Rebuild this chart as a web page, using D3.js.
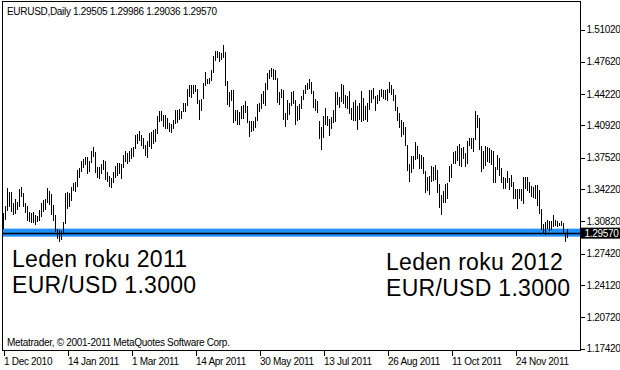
<!DOCTYPE html>
<html><head><meta charset="utf-8">
<script src="https://cdn.jsdelivr.net/npm/d3@7"></script>
<style>
body{margin:0;background:#fff;}
svg text{font-family:"Liberation Sans",Arial,sans-serif;}
</style></head>
<body><svg id="c" width="620" height="370"></svg>
<script>
// ---- data ----
const title = "EURUSD,Daily  1.29505 1.29986 1.29036 1.29570";
const highs = [
1.3170,1.3240,1.3430,1.3395,1.3395,1.3275,1.3315,1.3280,1.3420,1.3440,
1.3380,1.3270,1.3240,1.3180,1.3170,1.3180,1.3145,1.3140,1.3200,1.3270,
1.3310,1.3320,1.3430,1.3400,1.3365,1.3250,1.3145,1.3005,1.2985,1.2975,
1.3075,1.3375,1.3390,1.3380,1.3440,1.3490,1.3500,1.3620,1.3640,1.3720,
1.3740,1.3760,1.3760,1.3720,1.3820,1.3860,1.3810,1.3650,1.3650,1.3690,
1.3730,1.3720,1.3600,1.3560,1.3540,1.3600,1.3660,1.3700,1.3700,1.3690,
1.3780,1.3820,1.3800,1.3820,1.3850,1.3860,1.3990,1.4000,1.4035,1.3990,
1.3960,1.3890,1.3930,1.4010,1.4020,1.4040,1.4050,1.4190,1.4240,1.4240,
1.4200,1.4200,1.4170,1.4120,1.4110,1.4150,1.4250,1.4250,1.4260,1.4240,
1.4330,1.4330,1.4480,1.4520,1.4520,1.4520,1.4520,1.4480,1.4360,1.4370,
1.4540,1.4650,1.4580,1.4590,1.4680,1.4820,1.4880,1.4880,1.4860,1.4850,
1.4940,1.4870,1.4560,1.4440,1.4470,1.4460,1.4250,1.4250,1.4230,1.4300,
1.4310,1.4350,1.4300,1.4140,1.4140,1.4140,1.4180,1.4320,1.4330,1.4420,
1.4450,1.4540,1.4640,1.4680,1.4700,1.4690,1.4680,1.4590,1.4440,1.4480,
1.4460,1.4220,1.4360,1.4330,1.4440,1.4450,1.4360,1.4300,1.4320,1.4400,
1.4460,1.4520,1.4540,1.4580,1.4550,1.4450,1.4370,1.4350,1.4140,1.4070,
1.4190,1.4280,1.4190,1.4160,1.4180,1.4250,1.4440,1.4440,1.4390,1.4530,
1.4520,1.4410,1.4400,1.4450,1.4280,1.4340,1.4360,1.4300,1.4330,1.4450,
1.4380,1.4300,1.4330,1.4460,1.4470,1.4490,1.4400,1.4410,1.4460,1.4480,
1.4470,1.4470,1.4480,1.4550,1.4520,1.4480,1.4410,1.4290,1.4220,1.4150,
1.4130,1.4080,1.3890,1.3690,1.3770,1.3770,1.3920,1.3880,1.3790,1.3780,
1.3760,1.3610,1.3550,1.3560,1.3660,1.3650,1.3680,1.3620,1.3470,1.3360,
1.3400,1.3470,1.3490,1.3660,1.3690,1.3810,1.3820,1.3880,1.3900,1.3850,
1.3860,1.3800,1.3930,1.3960,1.3960,1.3960,1.4247,1.4200,1.4170,1.3870,
1.3820,1.3870,1.3860,1.3850,1.3830,1.3820,1.3650,1.3780,1.3750,1.3640,
1.3550,1.3540,1.3610,1.3540,1.3570,1.3500,1.3420,1.3420,1.3420,1.3420,
1.3550,1.3550,1.3550,1.3500,1.3450,1.3440,1.3460,1.3460,1.3410,1.3210,
1.3050,1.3070,1.3100,1.3080,1.3090,1.3150,1.3100,1.3080,1.3060,1.3080,
1.3060,1.2960,1.2999];
const lows = [
1.3000,1.3100,1.3195,1.3230,1.3180,1.3145,1.3160,1.3200,1.3230,1.3335,
1.3230,1.3165,1.3090,1.3070,1.3060,1.3060,1.3045,1.3070,1.3090,1.3125,
1.3180,1.3200,1.3270,1.3250,1.3145,1.3090,1.2970,1.2900,1.2862,1.2880,
1.2955,1.3055,1.3215,1.3230,1.3300,1.3400,1.3390,1.3440,1.3540,1.3600,
1.3640,1.3680,1.3580,1.3600,1.3700,1.3760,1.3590,1.3540,1.3530,1.3580,
1.3620,1.3520,1.3500,1.3440,1.3430,1.3480,1.3540,1.3560,1.3580,1.3530,
1.3640,1.3710,1.3690,1.3710,1.3740,1.3760,1.3840,1.3900,1.3930,1.3870,
1.3840,1.3770,1.3750,1.3860,1.3840,1.3900,1.3920,1.4000,1.4130,1.4140,
1.4080,1.4050,1.4050,1.4020,1.4010,1.4050,1.4110,1.4120,1.4150,1.4160,
1.4230,1.4230,1.4300,1.4390,1.4380,1.4420,1.4440,1.4320,1.4150,1.4240,
1.4370,1.4510,1.4530,1.4530,1.4560,1.4640,1.4770,1.4800,1.4760,1.4780,
1.4800,1.4510,1.4310,1.4290,1.4350,1.4120,1.4140,1.4100,1.4100,1.4160,
1.4160,1.4220,1.4120,1.3970,1.4020,1.4030,1.4060,1.4140,1.4230,1.4260,
1.4320,1.4300,1.4460,1.4580,1.4600,1.4570,1.4570,1.4330,1.4310,1.4380,
1.4150,1.4070,1.4150,1.4200,1.4300,1.4320,1.4100,1.4140,1.4150,1.4260,
1.4360,1.4420,1.4460,1.4480,1.4420,1.4280,1.4240,1.4220,1.3950,1.3837,
1.3960,1.4100,1.4090,1.3980,1.4050,1.4120,1.4130,1.4310,1.4270,1.4340,
1.4320,1.4270,1.4260,1.4210,1.4150,1.4140,1.4140,1.4040,1.4150,1.4130,
1.4140,1.4150,1.4130,1.4250,1.4330,1.4370,1.4240,1.4320,1.4350,1.4390,
1.4370,1.4360,1.4350,1.4430,1.4410,1.4350,1.4240,1.4140,1.4060,1.3970,
1.3990,1.3870,1.3610,1.3495,1.3590,1.3630,1.3730,1.3740,1.3630,1.3630,
1.3580,1.3380,1.3400,1.3360,1.3500,1.3510,1.3520,1.3380,1.3220,1.3145,
1.3270,1.3270,1.3320,1.3500,1.3540,1.3690,1.3690,1.3720,1.3660,1.3650,
1.3740,1.3650,1.3690,1.3880,1.3840,1.3810,1.3940,1.4060,1.3830,1.3600,
1.3630,1.3660,1.3710,1.3700,1.3680,1.3480,1.3480,1.3620,1.3560,1.3490,
1.3420,1.3420,1.3480,1.3410,1.3440,1.3320,1.3320,1.3210,1.3320,1.3300,
1.3260,1.3420,1.3400,1.3380,1.3340,1.3330,1.3320,1.3240,1.3160,1.2990,
1.2950,1.2940,1.3000,1.2980,1.2990,1.3020,1.3030,1.3020,1.3030,1.3030,
1.2950,1.2860,1.2904];
const priceTicks = [1.51020,1.47620,1.44220,1.40920,1.37520,1.34220,1.30820,1.27420,1.24120,1.20720,1.17420];
const dateTickIdx = [0,32,64,96,128,160,192,224,256];
const dateTickLabels = ["1 Dec 2010","14 Jan 2011","1 Mar 2011","14 Apr 2011","30 May 2011","13 Jul 2011","26 Aug 2011","11 Oct 2011","24 Nov 2011"];
const levelPrice = 1.29570;
const notes = [["Leden roku 2011","EUR/USD 1.3000"],["Leden roku 2012","EUR/USD 1.3000"]];
const credit = "Metatrader, © 2001-2011 MetaQuotes Software Corp.";

// ---- layout ----
const L=2.5, R=580.5, T=1.5, B=350.5;
const svg = d3.select("#c");
const y = d3.scaleLinear().domain([1.17420,1.51020]).range([348.5,29.5]);
const x = d3.scaleLinear().domain([0,1]).range([3,5]);

// level band
svg.append("rect").attr("x",L).attr("width",R-L)
  .attr("y",y(levelPrice)-4.5).attr("height",8).attr("fill","#1E90FF");
svg.append("line").attr("x1",L).attr("x2",R)
  .attr("y1",Math.round(y(levelPrice))+0.5).attr("y2",Math.round(y(levelPrice))+0.5)
  .attr("stroke","#000").attr("stroke-width",1.3);

// bars
svg.append("g").attr("shape-rendering","crispEdges").selectAll("rect")
  .data(highs.map((h,i)=>({i,h,l:lows[i]})))
  .join("rect")
  .attr("x",d=>x(d.i)).attr("width",1)
  .attr("y",d=>Math.round(y(d.h)))
  .attr("height",d=>Math.max(1,Math.round(y(d.l))-Math.round(y(d.h))))
  .attr("fill","#000");

// frame
svg.append("rect").attr("x",L).attr("y",T).attr("width",R-L).attr("height",B-T)
  .attr("fill","none").attr("stroke","#000").attr("shape-rendering","crispEdges");

// right axis
const ya = svg.append("g").attr("transform",`translate(${R},0)`)
  .call(d3.axisRight(y).tickValues(priceTicks).tickSize(4).tickPadding(2).tickFormat(d3.format(".5f")));
ya.select(".domain").remove();
ya.selectAll("text").attr("font-size",10).attr("letter-spacing","-0.3px").attr("fill","#000")
  .attr("font-family","Liberation Sans, Arial, sans-serif");
ya.selectAll("line").attr("shape-rendering","crispEdges");

// current price label
const py = y(levelPrice);
svg.append("rect").attr("x",R).attr("y",py-5.5).attr("width",620-R).attr("height",11).attr("fill","#000");
svg.append("text").attr("x",R+4).attr("y",py).attr("dy","0.35em").attr("font-size",10)
  .attr("letter-spacing","-0.3px").attr("fill","#fff").text(d3.format(".5f")(levelPrice));

// bottom axis
const xa = svg.append("g").attr("transform",`translate(0,${B})`)
  .call(d3.axisBottom(d3.scaleLinear().domain([0,1]).range([3.5,5.5]))
    .tickValues(dateTickIdx).tickSize(5).tickFormat((d,i)=>dateTickLabels[i]));
xa.select(".domain").remove();
xa.selectAll("line").attr("shape-rendering","crispEdges");
xa.selectAll("text").attr("text-anchor","start").attr("x",0).attr("y",7).attr("dy","0.71em")
  .attr("font-size",10).attr("letter-spacing","-0.3px").attr("fill","#000")
  .attr("font-family","Liberation Sans, Arial, sans-serif");

// header
svg.append("text").attr("x",7).attr("y",15).attr("font-size",10).attr("letter-spacing","-0.3px").text(title);
svg.append("text").attr("x",7).attr("y",346).attr("font-size",10).attr("letter-spacing","-0.3px").text(credit);

// notes
const notePos = [[12,266.5],[386,269.5]];
notes.forEach((n,k)=>{
  n.forEach((s,j)=>{
    svg.append("text").attr("x",notePos[k][0]).attr("y",notePos[k][1]+j*26)
      .attr("font-size",23).attr("letter-spacing","0.3px").attr("fill","#000").text(s);
  });
});
</script></body></html>
